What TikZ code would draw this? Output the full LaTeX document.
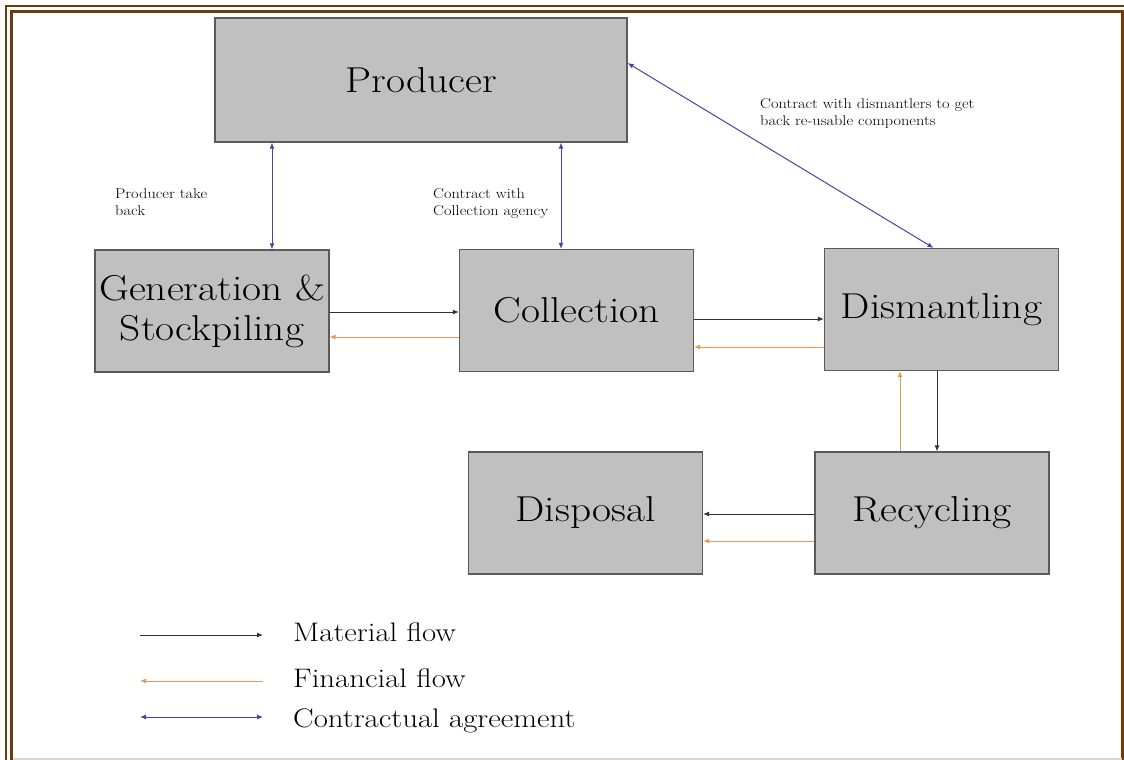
\documentclass[tikz,border=0pt]{standalone}
\usepackage{fontspec}
\setmainfont{Latin Modern Roman}[FakeStretch=1.15]
\usetikzlibrary{arrows.meta, calc}
\definecolor{framebrown}{HTML}{6E3B0E}
\definecolor{boxfill}{HTML}{C0C0C0}
\definecolor{boxline}{HTML}{5A5A5A}
\definecolor{matcol}{HTML}{303030}
\definecolor{fincol}{HTML}{E39A5A}
\definecolor{concol}{HTML}{4646A0}
\definecolor{bottomgrey}{HTML}{DCD6CE}
\tikzset{
  stage/.style={rectangle, draw=boxline, fill=boxfill, line width=1.2pt,
                minimum width=234pt, minimum height=122pt, inner sep=0pt,
                align=center, font=\fontsize{36}{40}\selectfont},
  matflow/.style={-{Latex[length=6pt,width=5pt]}, line width=1pt, draw=matcol},
  finflow/.style={-{Latex[length=6pt,width=5pt]}, line width=1pt, draw=fincol},
  contract/.style={{Latex[length=6pt,width=5pt]}-{Latex[length=6pt,width=5pt]},
                   line width=1pt, draw=concol},
  note/.style={font=\fontsize{14.2}{17}\selectfont, align=left,
               anchor=north west, inner sep=0pt},
  keytext/.style={font=\fontsize{26.8}{30}\selectfont, anchor=base west,
                  inner sep=0pt},
}

\begin{document}
\begin{tikzpicture}[x=1pt, y=-1pt]

  %% Canvas and frame
  \useasboundingbox (0,0) rectangle (1124,760);
  \clip (0,0) rectangle (1124,760);
  \fill[white] (0,0) rectangle (1124,760);
  \draw[framebrown, line width=2.5pt] (6,6) rectangle (1140,780);
  \draw[framebrown, line width=2.5pt] (11.7,11.7) rectangle (1122.5,780);
  \draw[bottomgrey, line width=1.5pt] (13,759) -- (1122,759);

  %% Stages
  \node[stage, minimum width=412pt, minimum height=124pt]
    (producer) at (421,80) {Producer};
  \node[stage] (genstock)   at (212,311)   {Generation \&\\Stockpiling};
  \node[stage] (collection) at (576.5,310.5) {Collection};
  \node[stage] (dismantle)  at (941.5,309.5) {Dismantling};
  \node[stage] (disposal)   at (585.5,513) {Disposal};
  \node[stage] (recycle)    at (932,513)   {Recycling};

  %% Contractual agreements
  \draw[contract] ([xshift=60pt]genstock.north)
    -- ([xshift=60pt]genstock.north |- producer.south);
  \draw[contract] ([xshift=-15.5pt]collection.north)
    -- ([xshift=-15.5pt]collection.north |- producer.south);
  \draw[contract] ([yshift=17pt]producer.east) -- ([xshift=-8pt]dismantle.north);

  \node[note] (lbltake)     at (115,188) {Producer take\\back};
  \node[note] (lblagency)   at (433,188) {Contract with\\Collection agency};
  \node[note] (lblreusable) at (760,98)
    {Contract with dismantlers to get\\back re-usable components};

  %% Material flow
  \draw[matflow] ([yshift=-1pt]genstock.east)
    -- ([yshift=-1pt]genstock.east -| collection.west);
  \draw[matflow] ([yshift=-8.5pt]collection.east)
    -- ([yshift=-8.5pt]collection.east -| dismantle.west);
  \draw[matflow] ([xshift=-4.5pt]dismantle.south)
    -- ([xshift=-4.5pt]dismantle.south |- recycle.north);
  \draw[matflow] ([yshift=-1pt]recycle.west)
    -- ([yshift=-1pt]recycle.west -| disposal.east);

  %% Financial flow
  \draw[finflow] ([yshift=-26pt]genstock.east -| collection.west)
    -- ([yshift=-26pt]genstock.east);
  \draw[finflow] ([yshift=-36.5pt]collection.east -| dismantle.west)
    -- ([yshift=-36.5pt]collection.east);
  \draw[finflow] ([xshift=-41.5pt]dismantle.south |- recycle.north)
    -- ([xshift=-41.5pt]dismantle.south);
  \draw[finflow] ([yshift=-28pt]recycle.west)
    -- ([yshift=-28pt]recycle.west -| disposal.east);

  %% Legend
  \coordinate (keymatA) at (140,635);
  \coordinate (keymatB) at (263,635);
  \coordinate (keyfinA) at (140,681);
  \coordinate (keyfinB) at (263,681);
  \coordinate (keyconA) at (140,717);
  \coordinate (keyconB) at (263,717);
  \draw[matflow]  (keymatA) -- (keymatB);
  \draw[finflow]  (keyfinB) -- (keyfinA);
  \draw[contract] (keyconA) -- (keyconB);
  \node[keytext] (keymat) at (293,641) {Material flow};
  \node[keytext] (keyfin) at (293,687) {Financial flow};
  \node[keytext] (keycon) at (293,727) {Contractual agreement};

\end{tikzpicture}
\end{document}
